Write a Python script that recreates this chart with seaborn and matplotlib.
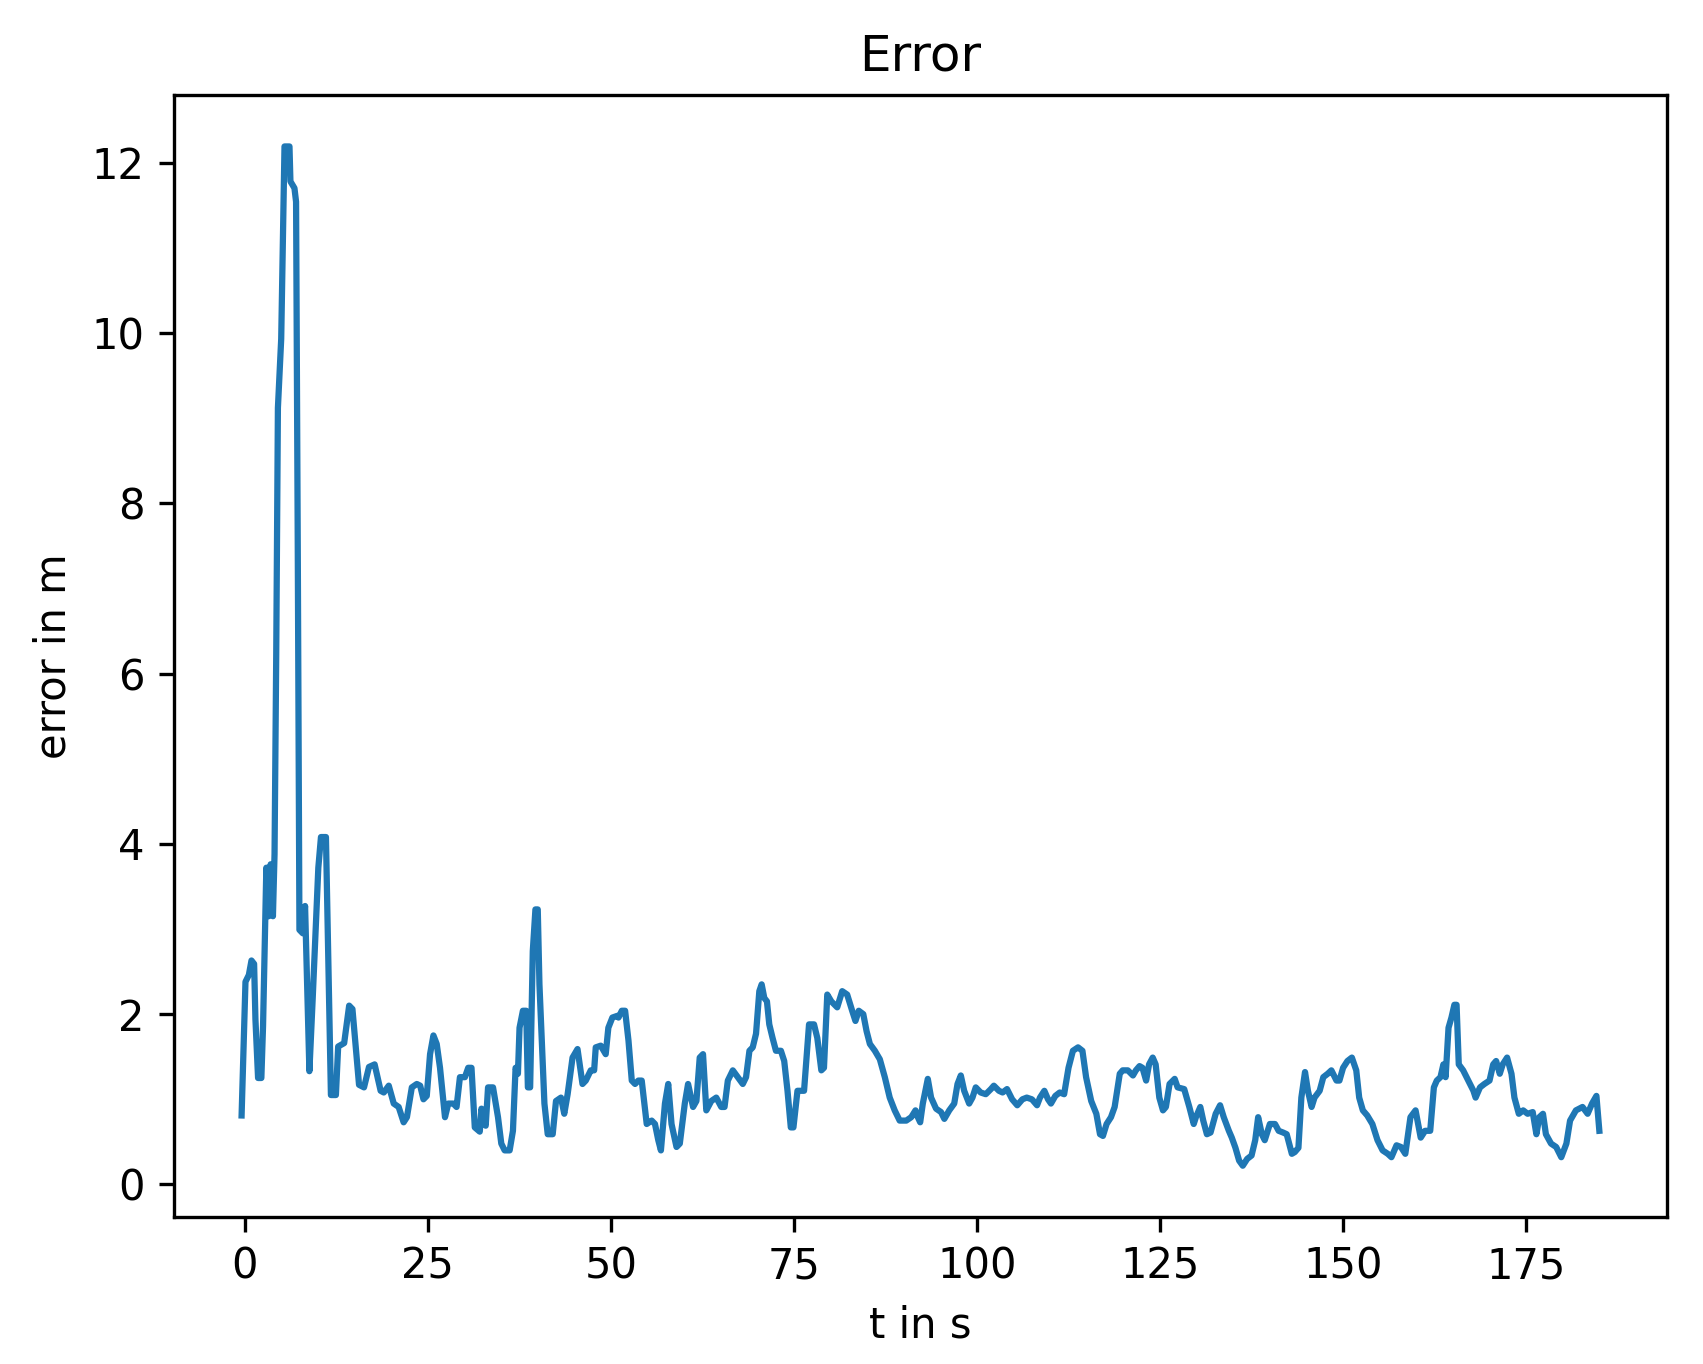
import matplotlib
matplotlib.use("Agg")
import matplotlib.pyplot as plt
import seaborn as sns
import pandas as pd

t_s = [-0.44, 0.09, 0.55, 0.91, 1.27, 1.45, 1.81, 2.26, 2.49, 2.94, 3.26, 3.53, 3.84, 4.06, 4.29, 4.52, 4.97, 5.42, 6.10, 6.23, 6.78, 7.00, 7.23, 7.46, 7.91, 8.23, 8.82, 9.27, 10.04, 10.40, 11.08, 11.76, 12.44, 12.75, 13.57, 14.25, 14.70, 15.60, 16.28, 16.96, 17.73, 18.55,
       18.98, 19.66, 20.34, 21.01, 21.69, 22.14, 22.81, 23.49, 23.95, 24.40, 24.85, 25.30, 25.76, 26.21, 26.66, 27.34, 27.79, 28.47, 28.92, 29.38, 30.06, 30.51, 30.96, 31.41, 32.09, 32.32, 32.90, 33.22, 33.90, 34.58, 35.03, 35.49, 36.17, 36.62, 36.98, 37.30, 37.52, 37.98, 38.43, 38.66, 38.97, 39.33, 39.69, 40.01, 40.24, 40.92, 41.37, 42.05, 42.50, 43.18, 43.63, 44.09, 44.76, 45.44, 46.12, 46.57, 47.25, 47.71, 47.93, 48.61, 49.29, 49.65, 50.20, 50.87,
       51.04, 51.49, 51.94, 52.40, 52.85, 53.30, 53.75, 54.21, 54.89, 55.57, 56.02, 56.47, 56.83, 57.38, 57.83, 58.28, 58.96, 59.41, 60.09, 60.54, 61.22, 61.68, 62.13, 62.58, 63.03, 63.71, 64.39, 65.07, 65.52, 65.97, 66.65, 67.33, 68.01, 68.46, 68.92, 69.37, 69.82, 70.27, 70.59, 70.95, 71.31, 71.63, 72.08, 72.54, 73.22, 73.67, 74.12, 74.57, 74.93, 75.48, 76.38, 77.06, 77.74, 78.19, 78.74, 79.10, 79.55, 80.10, 80.91, 81.59, 82.27, 82.95, 83.40, 83.85,
       84.47, 84.92, 85.37, 86.05, 86.73, 87.41, 88.08, 88.76, 89.44, 90.34, 91.02, 91.60, 91.92, 92.24, 92.60, 93.28, 93.73, 94.41, 95.09, 95.54, 96.21, 96.89, 97.34, 97.79, 98.25, 98.93, 99.38, 99.83, 100.5, 101.2, 101.9, 102.3, 103.0, 103.5, 104.1, 104.8, 105.5, 106.2, 106.8, 107.5, 108.2, 108.6, 109.2, 109.7, 110.1, 110.7, 111.3, 111.9, 112.5, 113.1, 113.8, 114.4, 114.9, 115.6, 116.3, 116.8,
       117.2, 117.7, 118.3, 118.8, 119.5, 119.9, 120.6, 121.3, 121.7, 122.2, 122.6, 123.1, 123.5, 124.0, 124.4, 124.9, 125.4, 125.8, 126.3, 127.0, 127.4, 128.3, 129.0, 129.6, 129.9, 130.5, 130.9, 131.4, 131.9, 132.6, 133.2, 133.7, 134.4, 134.8, 135.3, 135.8, 136.3, 136.9, 137.5, 138.0, 138.4, 138.9, 139.3, 140.0, 140.7, 141.2, 141.8, 142.3, 143.0, 143.4, 143.9, 144.3, 144.8, 145.2, 145.7, 146.1, 146.8, 147.3, 147.9, 148.4,
       149.1, 149.5, 150.0, 150.6, 151.2, 151.8, 152.2, 152.7, 153.3, 154.0, 154.7, 155.4, 156.1, 156.6, 157.3, 157.9, 158.5, 159.2, 159.9, 160.6, 161.2, 161.9, 162.4, 162.8, 163.3, 163.7, 164.0, 164.4, 164.8, 165.2, 165.5, 165.8, 166.4, 167.1, 167.8, 168.1, 168.7, 169.3, 170.0, 170.5, 170.9, 171.4, 171.8, 172.4, 173.0, 173.4, 174.0, 174.6, 175.2, 175.9, 176.4, 176.8, 177.3, 177.7, 178.4, 179.1, 179.8, 180.5, 181.0, 181.8, 182.7, 183.4, 184.0, 184.6, 185.0]

error_m = [0.81, 2.38, 2.46, 2.63, 2.59, 1.94, 1.25, 1.25, 1.86, 3.72, 3.15, 3.76, 3.15, 3.88, 6.22, 9.12, 9.93, 12.19, 12.19, 11.78, 11.70, 11.54, 7.51, 2.99, 2.95, 3.27, 1.33, 2.18, 3.72, 4.08, 4.08, 1.05, 1.05, 1.62, 1.66, 2.10, 2.06, 1.17, 1.14, 1.38, 1.41, 1.10,
           1.08, 1.16, 0.95, 0.91, 0.73, 0.79, 1.14, 1.18, 1.16, 1.00, 1.04, 1.53, 1.75, 1.65, 1.37, 0.79, 0.95, 0.95, 0.91, 1.26, 1.26, 1.37, 1.37, 0.67, 0.62, 0.89, 0.69, 1.14, 1.14, 0.79, 0.48, 0.40, 0.40, 0.63, 1.37, 1.30, 1.84, 2.04, 2.04, 1.14, 1.14, 2.74, 3.23, 3.23, 2.35, 0.95, 0.59, 0.59, 0.98, 1.02, 0.83, 1.06, 1.49, 1.59, 1.18, 1.22, 1.34, 1.34, 1.61, 1.63, 1.53, 1.84, 1.96, 1.98,
           1.96, 2.04, 2.04, 1.69, 1.22, 1.18, 1.22, 1.22, 0.71, 0.75, 0.71, 0.52, 0.40, 0.95, 1.18, 0.71, 0.44, 0.48, 0.95, 1.18, 0.91, 0.98, 1.49, 1.53, 0.87, 0.98, 1.02, 0.91, 0.91, 1.22, 1.34, 1.26, 1.18, 1.26, 1.57, 1.61, 1.77, 2.27, 2.35, 2.19, 2.15, 1.88, 1.72, 1.57, 1.57, 1.45, 1.10, 0.67, 0.67, 1.10, 1.10, 1.88, 1.88, 1.72, 1.34, 1.37, 2.23, 2.15, 2.08, 2.27, 2.23, 2.04, 1.92, 2.04,
           2.00, 1.80, 1.65, 1.57, 1.47, 1.26, 1.02, 0.87, 0.75, 0.75, 0.79, 0.87, 0.79, 0.73, 0.95, 1.24, 1.02, 0.89, 0.85, 0.77, 0.87, 0.95, 1.18, 1.28, 1.10, 0.95, 1.02, 1.14, 1.08, 1.06, 1.12, 1.16, 1.10, 1.08, 1.12, 1.00, 0.93, 1.00, 1.02, 1.00, 0.93, 1.02, 1.10, 1.00, 0.95, 1.04, 1.08, 1.06, 1.37, 1.57, 1.61, 1.57, 1.26, 0.98, 0.83, 0.59,
           0.57, 0.71, 0.79, 0.91, 1.30, 1.34, 1.34, 1.28, 1.34, 1.39, 1.37, 1.22, 1.41, 1.49, 1.41, 1.02, 0.87, 0.91, 1.18, 1.24, 1.14, 1.12, 0.91, 0.71, 0.79, 0.91, 0.75, 0.59, 0.61, 0.83, 0.93, 0.79, 0.63, 0.55, 0.43, 0.28, 0.22, 0.30, 0.34, 0.52, 0.79, 0.59, 0.52, 0.71, 0.71, 0.63, 0.61, 0.59, 0.36, 0.38, 0.43, 1.02, 1.32, 1.10, 0.91, 1.02, 1.10, 1.26, 1.30, 1.34,
           1.22, 1.22, 1.37, 1.45, 1.49, 1.34, 1.02, 0.87, 0.81, 0.71, 0.52, 0.40, 0.36, 0.32, 0.46, 0.44, 0.36, 0.79, 0.87, 0.55, 0.63, 0.63, 1.14, 1.22, 1.26, 1.41, 1.26, 1.84, 1.96, 2.11, 2.11, 1.41, 1.34, 1.22, 1.10, 1.02, 1.14, 1.18, 1.22, 1.41, 1.45, 1.30, 1.41, 1.49, 1.30, 1.02, 0.83, 0.87, 0.83, 0.85, 0.59, 0.79, 0.83, 0.59, 0.48, 0.44, 0.32, 0.48, 0.75, 0.87, 0.91, 0.83, 0.95, 1.04, 0.63]

df = pd.DataFrame({"t": t_s, "err": error_m})

fig = plt.figure(figsize=(1703 / 300, 1364 / 300), dpi=300)
ax = fig.add_axes([0.102, 0.108, 0.877, 0.822])
sns.lineplot(data=df, x="t", y="err", ax=ax, color="#1f77b4", linewidth=1.5,
             errorbar=None, estimator=None, sort=False)
ax.set_title("Error")
ax.set_xlabel("t in s")
ax.set_ylabel("error in m")
ax.set_xticks([0, 25, 50, 75, 100, 125, 150, 175])
ax.set_yticks([0, 2, 4, 6, 8, 10, 12])
fig.savefig("out.png", dpi=300)
